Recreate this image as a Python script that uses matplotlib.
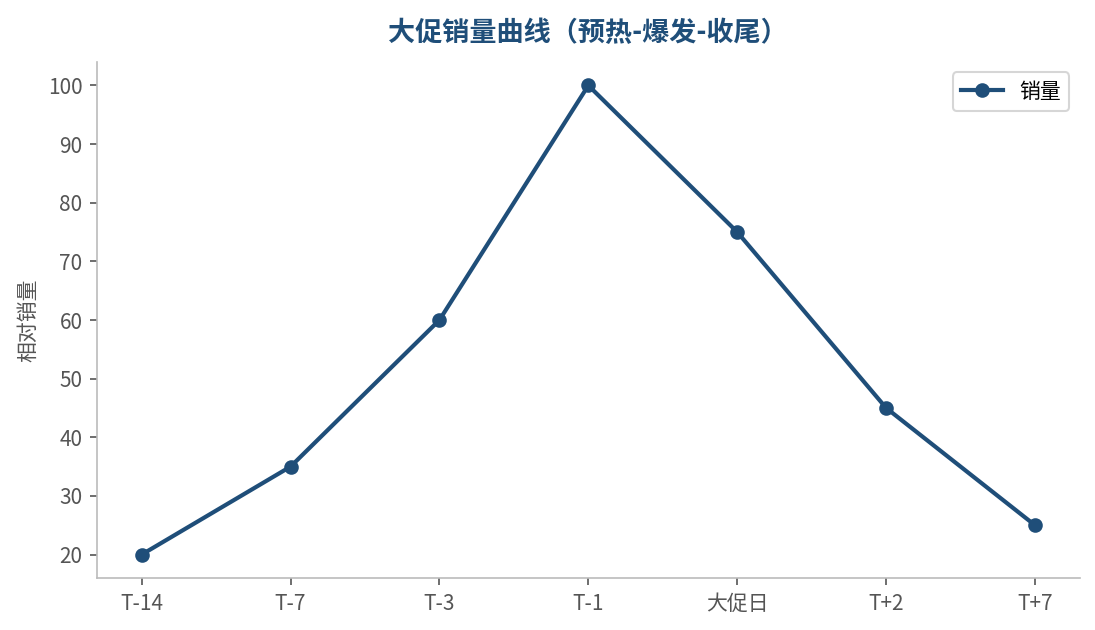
import matplotlib
matplotlib.use("Agg")
import matplotlib.pyplot as plt

plt.rcParams['font.family'] = ['Noto Sans CJK SC', 'DejaVu Sans']

categories = ["T-14", "T-7", "T-3", "T-1", "大促日", "T+2", "T+7"]
sales = [20, 35, 60, 100, 75, 45, 25]

color = "#1f4e79"
fig = plt.figure(figsize=(7.3, 4.2), dpi=150)
ax = fig.add_axes([0.0886, 0.0825, 0.8974, 0.8191])
ax.plot(categories, sales, color=color, linewidth=2, marker='o', markersize=6, label="销量")
ax.set_title("大促销量曲线（预热-爆发-收尾）", fontsize=13, fontweight='bold', color=color, pad=10)
ax.set_ylabel("相对销量", fontsize=10, color="#555555")
ax.set_yticks(range(20, 101, 10))
for s in ["top", "right"]:
    ax.spines[s].set_visible(False)
for s in ["left", "bottom"]:
    ax.spines[s].set_color("#bbbbbb")
ax.tick_params(colors="#555555", labelsize=10)
leg = ax.legend(loc="upper right", fontsize=10, frameon=True)
leg.get_frame().set_edgecolor("#cccccc")
fig.savefig("out.png", dpi=150)
